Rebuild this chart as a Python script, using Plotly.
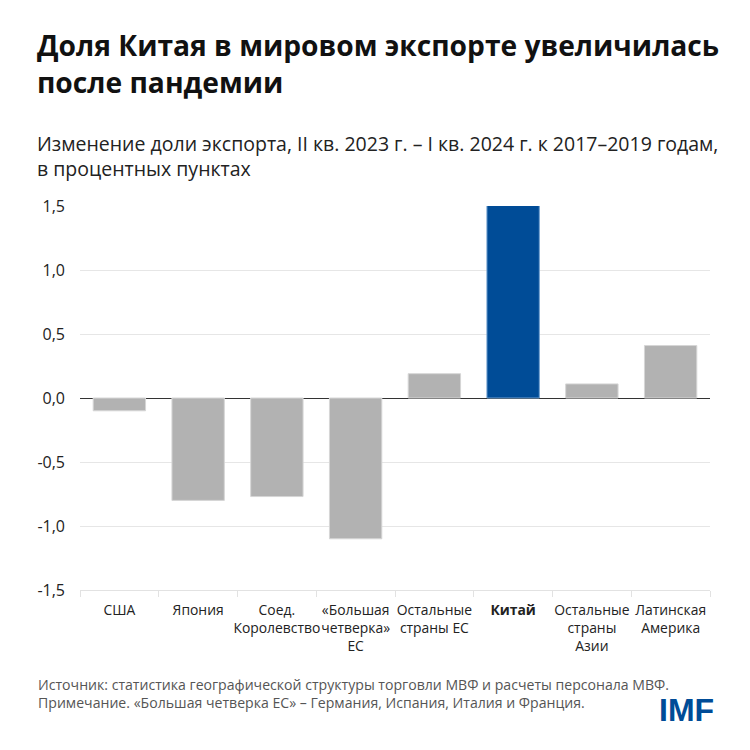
import plotly.graph_objects as go

categories = [
    "США",
    "Япония",
    "Соед.<br>Королевство",
    "«Большая<br>четверка»<br>ЕС",
    "Остальные<br>страны ЕС",
    "<b>Китай</b>",
    "Остальные<br>страны<br>Азии",
    "Латинская<br>Америка",
]
values = [-0.10, -0.80, -0.77, -1.10, 0.19, 1.51, 0.11, 0.41]
y_ticks = [-1.5, -1.0, -0.5, 0.0, 0.5, 1.0, 1.5]
y_tick_text = ["-1,5", "-1,0", "-0,5", "0,0", "0,5", "1,0", "1,5"]

GRAY = "#b2b2b2"
BLUE = "#004c97"
FONT = "Open Sans"

# page is drawn with an 8px body offset, so layout pixels = picture pixels - 8
OFF = 8
TOP, BOTTOM, LEFT, RIGHT = 206 - OFF, 590 - OFF, 80 - OFF, 710 - OFF


def py(px):
    return (BOTTOM - (px - OFF)) / (BOTTOM - TOP)


def pxx(px):
    return ((px - OFF) - LEFT) / (RIGHT - LEFT)


colors = [BLUE if "Китай" in c else GRAY for c in categories]
edges = ["#6f9fd0" if "Китай" in c else "#d6d6d6" for c in categories]

fig = go.Figure(
    go.Bar(
        x=categories,
        y=values,
        marker={"color": colors, "line": {"color": edges, "width": 1}},
        width=0.665,
    )
)

fig.update_xaxes(
    showgrid=False,
    showline=True,
    linecolor="#e2e2e2",
    linewidth=1,
    ticks="outside",
    tickson="boundaries",
    ticklen=6,
    tickcolor="#e2e2e2",
    tickfont={"family": FONT, "size": 13.9, "color": "#222"},
    tickangle=0,
    ticklabelstandoff=7,
)
fig.update_yaxes(
    range=[-1.5, 1.5],
    tickvals=y_ticks,
    ticktext=y_tick_text,
    showgrid=True,
    gridcolor="#e6e6e6",
    zeroline=True,
    zerolinecolor="#333",
    zerolinewidth=1,
    tickfont={"family": FONT, "size": 16, "color": "#222"},
    ticklabelstandoff=14,
)

annotations = [
    dict(
        text="<b>Доля Китая в мировом экспорте увеличилась<br>после пандемии</b>",
        x=pxx(35), y=py(24), font={"size": 28.2, "color": "#111"},
    ),
    dict(
        text="Изменение доли экспорта, II кв. 2023 г. – I кв. 2024 г. к 2017–2019 годам,<br>в процентных пунктах",
        x=pxx(35), y=py(128), font={"size": 19.5, "color": "#222"},
    ),
    dict(
        text="Источник: статистика географической структуры торговли МВФ и расчеты персонала МВФ.<br>"
        "Примечание. «Большая четверка ЕС» – Германия, Испания, Италия и Франция.",
        x=pxx(36), y=py(673), font={"size": 14.1, "color": "#555"},
    ),
]
for a in annotations:
    a.update(xref="paper", yref="paper", xanchor="left", yanchor="top",
             align="left", showarrow=False)
    a["font"]["family"] = FONT
    fig.add_annotation(**a)

fig.add_annotation(
    text="<b>IMF</b>", xref="paper", yref="paper", x=pxx(716), y=py(710),
    xanchor="right", yanchor="middle", showarrow=False,
    font={"family": "Liberation Sans", "size": 32, "color": BLUE},
)

fig.update_layout(
    width=750,
    height=750,
    margin={"l": LEFT, "r": 750 - RIGHT, "t": TOP, "b": 750 - BOTTOM},
    plot_bgcolor="white",
    paper_bgcolor="white",
    showlegend=False,
    bargap=0.335,
    font={"family": FONT},
)

fig.write_html("out.html")
